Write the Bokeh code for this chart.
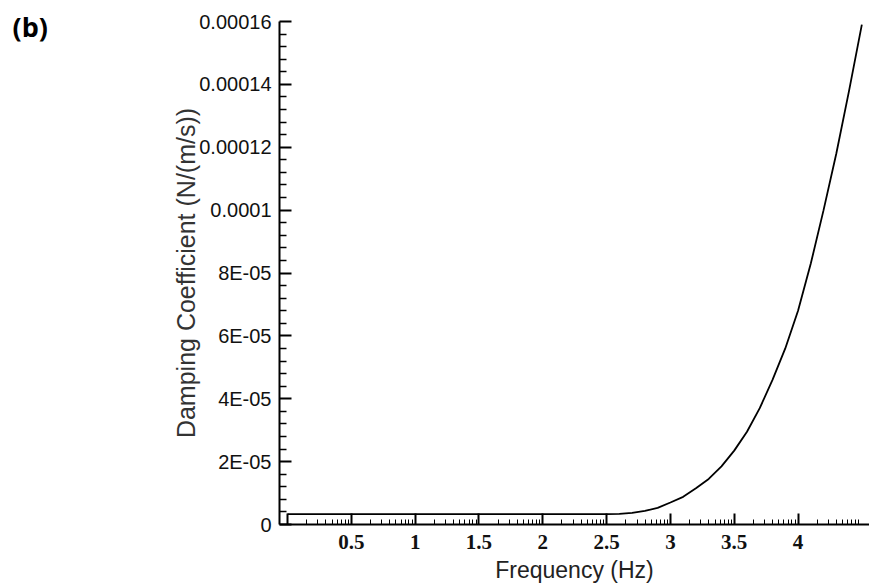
import math
from bokeh.plotting import figure
from bokeh.models import FixedTicker, Range1d, Title
from bokeh.embed import file_html
from bokeh.resources import INLINE

# ---- data ----
freq = [0.0, 0.5, 1.0, 1.5, 2.0, 2.5, 2.6, 2.7, 2.8, 2.9, 3.0, 3.1, 3.2, 3.3,
        3.4, 3.5, 3.6, 3.7, 3.8, 3.9, 4.0, 4.1, 4.2, 4.3, 4.4, 4.5]
damping = [3.3e-6, 3.3e-6, 3.3e-6, 3.3e-6, 3.3e-6, 3.3e-6, 3.4e-6, 3.7e-6,
           4.3e-6, 5.3e-6, 7.0e-6, 8.8e-6, 1.15e-5, 1.45e-5, 1.85e-5, 2.35e-5,
           2.95e-5, 3.7e-5, 4.6e-5, 5.6e-5, 6.8e-5, 8.3e-5, 1.0e-4, 1.18e-4,
           1.38e-4, 1.59e-4]

x_ticks = [0.0, 0.5, 1.0, 1.5, 2.0, 2.5, 3.0, 3.5, 4.0]
x_labels = ["", "0.5", "1", "1.5", "2", "2.5", "3", "3.5", "4"]
y_ticks = [0.0, 2e-05, 4e-05, 6e-05, 8e-05, 1e-04, 1.2e-04, 1.4e-04, 1.6e-04]
y_labels = ["0", "2E-05", "4E-05", "6E-05", "8E-05", "0.0001", "0.00012",
            "0.00014", "0.00016"]

x_title = "Frequency (Hz)"
y_title = "Damping Coefficient (N/(m/s))"
panel_tag = "(b)"

X_START, X_END = -0.063, 4.56
Y_START, Y_END = 0.0, 1.6e-4

# ---- figure ----
p = figure(width=869, height=588, output_backend="svg", toolbar_location=None,
           x_range=Range1d(X_START, X_END), y_range=Range1d(Y_START, Y_END),
           min_border_left=279, min_border_right=0, min_border_top=21,
           min_border_bottom=64)
p.outline_line_color = None
p.xgrid.visible = False
p.ygrid.visible = False
p.background_fill_color = "white"
p.border_fill_color = "white"

p.line(freq, damping, line_color="black", line_width=1.8)

# panel tag "(b)" at top-left of the canvas (as a title in the top border)
tag = Title(text=panel_tag, align="left", vertical_align="bottom",
            offset=-267, standoff=-46, text_font="Open Sans",
            text_font_style="bold", text_font_size="27px", text_color="black")
p.add_layout(tag, "above")

# x axis: log-style minor ticks inside each 0.5 interval
step = 0.5
minor_x = []
for a in x_ticks + [x_ticks[-1] + step]:
    for k in range(2, 10):
        minor_x.append(a + step * math.log10(k))
minor_x = [m for m in minor_x if m < X_END]

xa = p.xaxis[0]
xa.ticker = FixedTicker(ticks=x_ticks, minor_ticks=minor_x)
xa.major_label_overrides = {t: l for t, l in zip(x_ticks, x_labels)}
xa.axis_label = x_title
xa.axis_label_text_font = "Liberation Sans"
xa.axis_label_text_font_style = "normal"
xa.axis_label_text_font_size = "23px"
xa.axis_label_text_color = "#222222"
xa.axis_label_standoff = 5
xa.major_label_text_font = "Liberation Serif"
xa.major_label_text_font_style = "bold"
xa.major_label_text_font_size = "21px"
xa.major_label_text_color = "#111111"
xa.major_label_standoff = 10
xa.axis_line_width = 2
xa.axis_line_color = "black"
xa.major_tick_in = 11
xa.major_tick_out = 0
xa.minor_tick_in = 5
xa.minor_tick_out = 0
xa.major_tick_line_width = 2
xa.minor_tick_line_width = 1

minor_y = []
for i in range(len(y_ticks) - 1):
    for j in range(1, 5):
        minor_y.append(y_ticks[i] + (y_ticks[i + 1] - y_ticks[i]) * j / 5)

ya = p.yaxis[0]
ya.ticker = FixedTicker(ticks=y_ticks, minor_ticks=minor_y)
ya.major_label_overrides = {t: l for t, l in zip(y_ticks, y_labels)}
ya.axis_label = y_title
ya.axis_label_text_font = "Liberation Sans"
ya.axis_label_text_font_style = "normal"
ya.axis_label_text_font_size = "25px"
ya.axis_label_text_color = "#333333"
ya.axis_label_standoff = -4
ya.major_label_text_font = "Liberation Sans"
ya.major_label_text_font_size = "20px"
ya.major_label_text_color = "#111111"
ya.major_label_standoff = 8
ya.axis_line_width = 2
ya.axis_line_color = "black"
ya.major_tick_in = 12
ya.major_tick_out = 0
ya.minor_tick_in = 7
ya.minor_tick_out = 0
ya.major_tick_line_width = 2
ya.minor_tick_line_width = 1.5

open("out.html", "w").write(file_html(p, INLINE))
